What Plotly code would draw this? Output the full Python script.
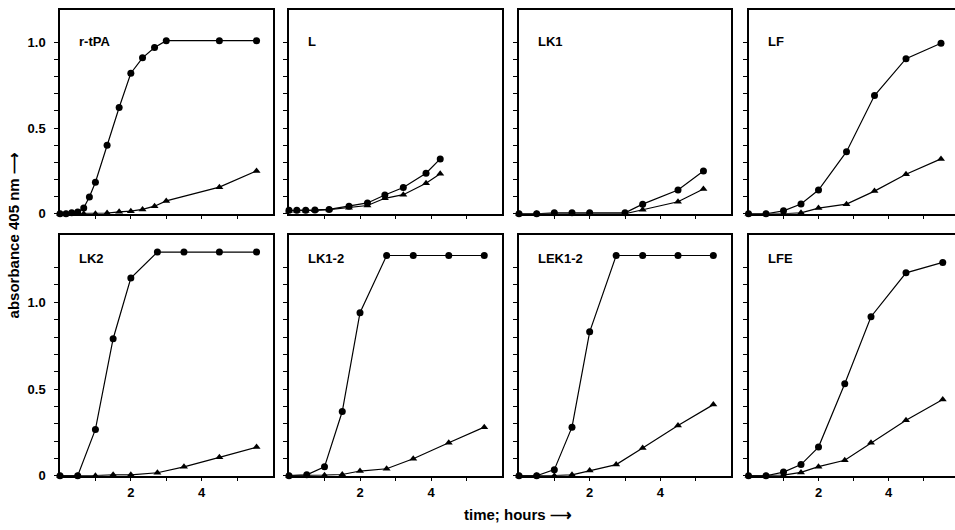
import plotly.graph_objects as go

# ---------------- data ----------------
panel_names = ["r-tPA", "L", "LK1", "LF", "LK2", "LK1-2", "LEK1-2", "LFE"]

rtpa_t_circ = [0, 0.17, 0.33, 0.5, 0.67, 0.83, 1.0, 1.33, 1.67, 2.0, 2.33, 2.67, 3.0, 4.5, 5.55]
rtpa_y_circ = [0, 0, 0.005, 0.01, 0.034, 0.098, 0.184, 0.40, 0.62, 0.82, 0.91, 0.97, 1.01, 1.01, 1.01]
rtpa_t_tri = [0, 0.17, 0.33, 0.5, 0.67, 1.0, 1.33, 1.67, 2.0, 2.33, 2.67, 3.0, 4.5, 5.55]
rtpa_y_tri = [0, 0, 0, 0, 0, 0, 0.004, 0.011, 0.015, 0.025, 0.044, 0.075, 0.155, 0.25]

l_t = [0, 0.22, 0.47, 0.73, 1.13, 1.69, 2.21, 2.70, 3.22, 3.86, 4.26]
l_y_circ = [0.02, 0.02, 0.02, 0.022, 0.025, 0.044, 0.063, 0.109, 0.153, 0.236, 0.32]
l_y_tri = [0.018, 0.018, 0.018, 0.02, 0.024, 0.035, 0.048, 0.09, 0.111, 0.178, 0.233]

lk1_t = [0, 0.5, 1.0, 1.5, 2.0, 3.0, 3.5, 4.5, 5.22]
lk1_y_circ = [0, 0, 0.005, 0.005, 0.005, 0.005, 0.056, 0.138, 0.249]
lk1_y_tri = [0, 0, 0, 0, 0, 0, 0.023, 0.07, 0.144]

lf_t = [0, 0.5, 1.0, 1.5, 2.0, 2.8, 3.6, 4.5, 5.5]
lf_y_circ = [0, 0, 0.017, 0.057, 0.138, 0.362, 0.69, 0.905, 0.995]
lf_y_tri = [0, 0, 0, 0.005, 0.033, 0.056, 0.132, 0.23, 0.32]

lk2_t = [0, 0.5, 1.0, 1.5, 2.0, 2.75, 3.5, 4.5, 5.55]
lk2_y_circ = [0, 0, 0.267, 0.79, 1.14, 1.29, 1.29, 1.29, 1.29]
lk2_y_tri = [0, 0, 0, 0.005, 0.005, 0.017, 0.051, 0.106, 0.165]

lk12_t = [0, 0.5, 1.0, 1.5, 2.0, 2.75, 3.5, 4.5, 5.5]
lk12_y_circ = [0, 0.005, 0.051, 0.37, 0.94, 1.27, 1.27, 1.27, 1.27]
lk12_y_tri = [0, 0, 0.003, 0.007, 0.027, 0.04, 0.098, 0.19, 0.28]

lek12_t = [0, 0.5, 1.0, 1.5, 2.0, 2.75, 3.5, 4.5, 5.5]
lek12_y_circ = [0, 0, 0.035, 0.28, 0.83, 1.27, 1.27, 1.27, 1.27]
lek12_y_tri = [0, 0, 0, 0.005, 0.03, 0.064, 0.16, 0.29, 0.41]

lfe_t = [0, 0.5, 1.0, 1.5, 2.0, 2.75, 3.5, 4.5, 5.55]
lfe_y_circ = [0, 0, 0.021, 0.064, 0.165, 0.53, 0.917, 1.17, 1.23]
lfe_y_tri = [0, 0, 0.003, 0.019, 0.052, 0.089, 0.19, 0.32, 0.44]

series = [
    (rtpa_t_circ, rtpa_y_circ, rtpa_t_tri, rtpa_y_tri),
    (l_t, l_y_circ, l_t, l_y_tri),
    (lk1_t, lk1_y_circ, lk1_t, lk1_y_tri),
    (lf_t, lf_y_circ, lf_t, lf_y_tri),
    (lk2_t, lk2_y_circ, lk2_t, lk2_y_tri),
    (lk12_t, lk12_y_circ, lk12_t, lk12_y_tri),
    (lek12_t, lek12_y_circ, lek12_t, lek12_y_tri),
    (lfe_t, lfe_y_circ, lfe_t, lfe_y_tri),
]

y_tick_labels = {0: "0", 5: "0.5", 10: "1.0"}
x_tick_labels = {2: "2", 4: "4"}
y_title = "absorbance 405 nm ⟶"
x_title = "time; hours ⟶"

# ---------------- layout geometry (pixels) ----------------
W, H = 955, 530
col_px = [(60, 272.5), (289, 502), (519, 731), (748.5, 955)]
col_xmax = [6, 6, 6, 5.9]
row_px = [(10, 217), (239, 483)]
row_ymax = [1.19, 1.386]
row_ntick = [11, 13]

FONT = "Liberation Sans, Arial, Helvetica, sans-serif"
fig = go.Figure()
layout = dict(
    width=W, height=H, margin=dict(l=0, r=0, t=0, b=0),
    paper_bgcolor="white", plot_bgcolor="white", showlegend=False,
    font=dict(family=FONT, color="black", size=12),
)
annotations = []

for i, name in enumerate(panel_names):
    r, c = divmod(i, 4)
    idx = "" if i == 0 else str(i + 1)
    xa, ya = "x" + idx, "y" + idx
    tc, yc, tt, yt = series[i]
    fig.add_trace(go.Scatter(x=tt, y=yt, xaxis=xa, yaxis=ya, mode="lines+markers",
                             line=dict(color="black", width=1.2),
                             marker=dict(symbol="triangle-up", size=7, color="black"),
                             cliponaxis=False))
    fig.add_trace(go.Scatter(x=tc, y=yc, xaxis=xa, yaxis=ya, mode="lines+markers",
                             line=dict(color="black", width=1.2),
                             marker=dict(symbol="circle", size=7, color="black"),
                             cliponaxis=False))
    x0, x1 = col_px[c]
    y0, y1 = row_px[r]
    yvals = [k / 10 for k in range(row_ntick[r])]
    ytext = [y_tick_labels.get(k, "") for k in range(row_ntick[r])]
    xvals = [1, 2, 3, 4, 5]
    xtext = [x_tick_labels.get(v, "") for v in xvals]
    layout["xaxis" + idx] = dict(
        domain=[x0 / W, x1 / W], range=[0, col_xmax[c]], anchor=ya,
        showgrid=False, zeroline=False, showline=True, linecolor="black", linewidth=1.5,
        mirror=True, ticks="outside", ticklen=4, tickwidth=1, tickcolor="black",
        tickvals=xvals, ticktext=xtext, showticklabels=(r == 1),
        tickfont=dict(family=FONT, size=13, color="black", weight="bold"),
        fixedrange=True,
    )
    layout["yaxis" + idx] = dict(
        domain=[1 - y1 / H, 1 - y0 / H], range=[0, row_ymax[r]], anchor=xa,
        showgrid=False, zeroline=False, showline=True, linecolor="black", linewidth=1.5,
        mirror=(c != 3), ticks="outside", ticklen=4, tickwidth=1, tickcolor="black",
        tickvals=yvals, ticktext=ytext, showticklabels=(c == 0), ticklabelstandoff=6,
        tickfont=dict(family=FONT, size=13, color="black", weight="bold"),
        fixedrange=True,
    )
    label_y = 42 if r == 0 else 262
    annotations.append(dict(
        text="<b>%s</b>" % name, xref="paper", yref="paper",
        x=(x0 + 17) / W, y=1 - label_y / H, xanchor="left", yanchor="middle",
        showarrow=False, font=dict(family=FONT, size=13, color="black"),
    ))

annotations.append(dict(
    text="<b>%s</b>" % y_title, xref="paper", yref="paper", x=13 / W, y=1 - 239 / H,
    xanchor="center", yanchor="middle", textangle=-90, showarrow=False,
    font=dict(family=FONT, size=15, color="black"),
))
annotations.append(dict(
    text="<b>%s</b>" % x_title, xref="paper", yref="paper", x=518 / W, y=1 - 522 / H,
    xanchor="center", yanchor="middle", showarrow=False,
    font=dict(family=FONT, size=15, color="black"),
))
layout["annotations"] = annotations
fig.update_layout(**layout)
fig.write_html("out.html", config={"displayModeBar": False},
               post_script="document.body.style.margin='0';")
